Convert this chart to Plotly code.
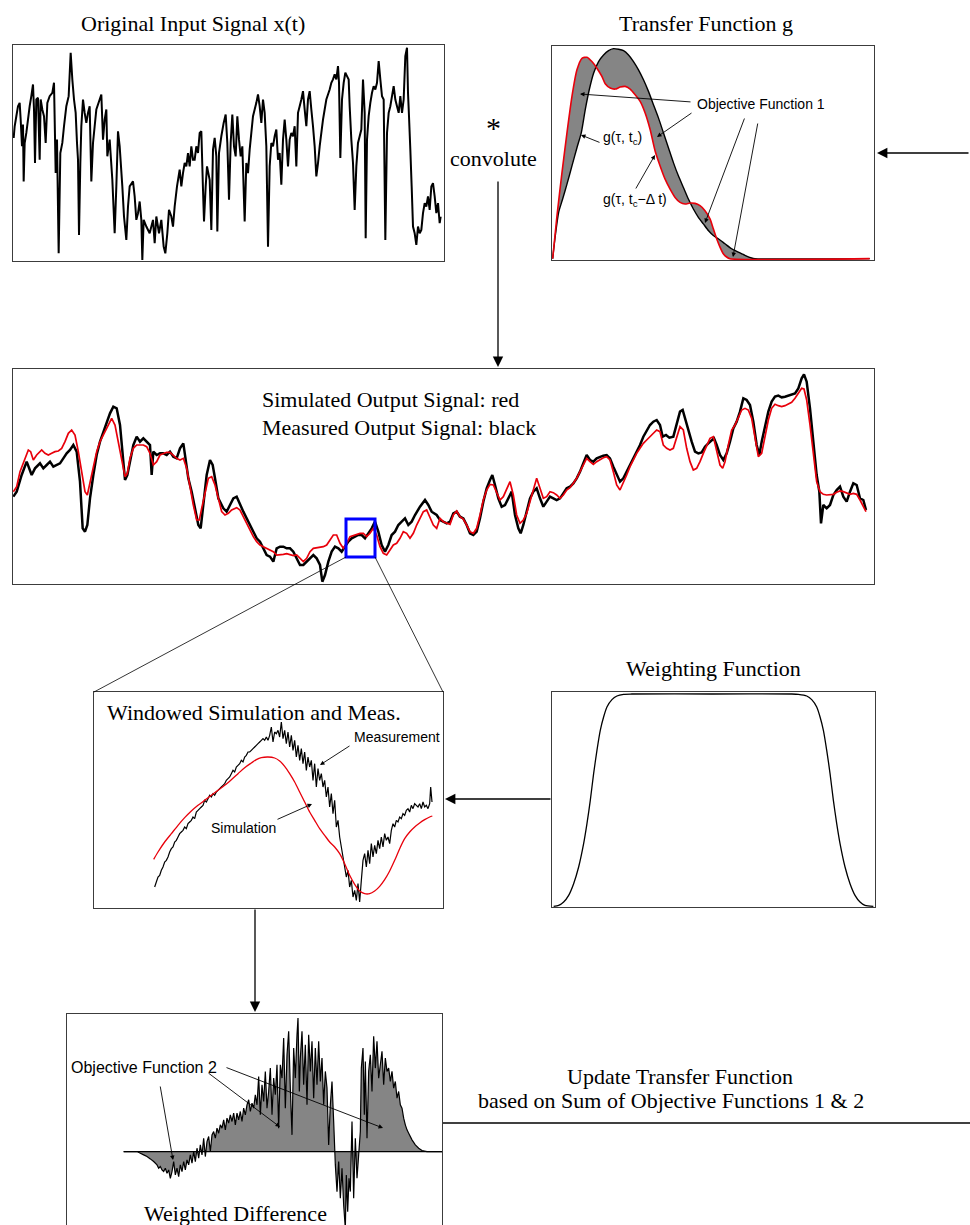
import plotly.graph_objects as go

# ---------------------------------------------------------------------------
# Canvas
# ---------------------------------------------------------------------------
W, H = 970, 1225


def px(x):
    return x / W


def py(y):
    return 1 - y / H


SERIF = "Liberation Serif, Times New Roman, serif"
SANS = "Liberation Sans, Arial, Helvetica, sans-serif"
BOX = "#3c3c3c"
FILL = "#858585"

# ---------------------------------------------------------------------------
# Data  (sample index, amplitude in arbitrary units)
# ---------------------------------------------------------------------------
input_signal = [
    (42, 385), (45, 420), (50, 450), (55, 480), (60, 490), (63, 440), (67, 360), (70, 425), (72, 255),
    (75, 370), (80, 400), (85, 440), (90, 480), (95, 510), (100, 545), (103, 470), (106, 310), (110, 500),
    (115, 505), (120, 320), (123, 500), (128, 470), (133, 450), (138, 370), (143, 490), (150, 510),
    (158, 520), (163, 550), (168, 280), (172, 380), (177, 40), (182, 340), (188, 370), (193, 420),
    (200, 480), (207, 510), (213, 640), (218, 560), (223, 500), (228, 460), (232, 370), (235, 320),
    (238, 95), (242, 310), (245, 420), (250, 500), (255, 460), (260, 430), (265, 460), (270, 480),
    (275, 255), (280, 370), (285, 420), (290, 470), (300, 500), (305, 515), (310, 380), (315, 440),
    (320, 470), (323, 330), (330, 380), (338, 260), (345, 100), (350, 240), (355, 405), (360, 360),
    (368, 240), (373, 150), (380, 80), (385, 180), (390, 240), (400, 255), (405, 210), (410, 140),
    (415, 160), (420, 195), (425, 140), (428, 20), (432, 140), (440, 120), (450, 100), (460, 140),
    (465, 70), (470, 150), (478, 100), (485, 140), (492, 60), (497, 40), (503, 100), (508, 170),
    (515, 150), (520, 120), (525, 180), (532, 240), (540, 290), (545, 240), (550, 280), (555, 310),
    (560, 300), (565, 340), (570, 300), (575, 360), (580, 320), (585, 320), (590, 360), (595, 340),
    (600, 400), (605, 405), (610, 230), (613, 135), (618, 240), (622, 300), (630, 260), (635, 110),
    (640, 350), (645, 385), (650, 330), (653, 105), (658, 340), (665, 390), (672, 430), (678, 455),
    (683, 370), (688, 200), (693, 370), (698, 455), (703, 360), (708, 330), (713, 450), (718, 380),
    (723, 330), (728, 360), (735, 135), (740, 310), (745, 280), (750, 350), (755, 400), (760, 450),
    (765, 470), (770, 490), (775, 515), (780, 480), (785, 430), (790, 500), (795, 460), (800, 360),
    (805, 60), (810, 300), (815, 370), (820, 360), (825, 390), (830, 410), (835, 320), (840, 340),
    (845, 245), (850, 380), (855, 440), (860, 380), (865, 300), (870, 380), (875, 400), (880, 390),
    (885, 420), (890, 300), (895, 460), (900, 480), (905, 500), (910, 525), (915, 470), (920, 420),
    (925, 500), (930, 525), (935, 470), (940, 420), (945, 360), (950, 270), (955, 310), (960, 360),
    (965, 400), (970, 440), (975, 470), (980, 500), (985, 515), (990, 530), (995, 550), (1000, 560),
    (1005, 575), (1010, 560), (1015, 600), (1018, 550), (1022, 325), (1027, 500), (1032, 550),
    (1037, 580), (1042, 570), (1047, 560), (1050, 480), (1055, 380), (1060, 310), (1065, 170),
    (1070, 300), (1075, 370), (1080, 390), (1085, 410), (1090, 560), (1095, 460), (1098, 85),
    (1102, 380), (1107, 450), (1112, 490), (1117, 520), (1122, 540), (1127, 530), (1132, 550),
    (1137, 615), (1142, 560), (1147, 510), (1152, 500), (1157, 80), (1162, 400), (1167, 460),
    (1172, 480), (1177, 510), (1182, 540), (1187, 500), (1192, 480), (1197, 460), (1202, 510),
    (1207, 460), (1212, 500), (1217, 630), (1222, 655), (1225, 520), (1228, 450), (1232, 350),
    (1236, 240), (1240, 120), (1245, 100), (1250, 65), (1255, 120), (1260, 100), (1265, 110),
    (1270, 160), (1275, 190), (1280, 180), (1285, 210), (1290, 170), (1295, 240), (1300, 250),
    (1305, 210), (1310, 160), (1315, 190), (1320, 130), (1323, 150),
]

# transfer function g(tau, t_c) and the previous estimate g(tau, t_c - dt)
g_current = [
    (22, 20), (30, 90), (40, 160), (52, 200), (65, 245), (80, 300), (95, 355), (108, 400), (120, 470),
    (132, 530), (145, 580), (160, 615), (175, 635), (190, 648), (205, 654), (220, 652), (235, 648),
    (250, 635), (265, 615), (280, 590), (295, 560), (310, 525), (325, 485), (340, 445), (355, 400),
    (370, 355), (385, 310), (400, 270), (415, 235), (430, 200), (445, 170), (460, 145), (475, 125),
    (490, 105), (505, 90), (520, 80), (540, 65), (560, 50), (580, 40), (600, 30), (620, 22), (630, 20),
    (975, 20),
]
g_previous = [
    (22, 20), (35, 150), (50, 280), (65, 400), (80, 510), (95, 590), (110, 625), (125, 628), (140, 615),
    (155, 595), (170, 570), (180, 548), (195, 535), (210, 532), (225, 538), (240, 540), (255, 532),
    (270, 515), (285, 495), (300, 460), (315, 410), (330, 345), (345, 300), (360, 260), (375, 230),
    (390, 205), (405, 190), (420, 185), (435, 188), (450, 187), (465, 180), (480, 165), (495, 140),
    (505, 110), (515, 80), (525, 55), (535, 35), (545, 25), (555, 20), (975, 20),
]

measured_out = [
    (10, 305), (20, 320), (35, 370), (50, 410), (65, 370), (75, 390), (90, 405), (100, 390), (110, 400),
    (120, 410), (130, 395), (140, 400), (150, 405), (160, 420), (170, 435), (180, 445), (190, 460),
    (200, 440), (210, 350), (218, 210), (225, 200), (232, 220), (240, 300), (250, 370), (260, 430),
    (270, 470), (280, 500), (290, 530), (300, 555), (310, 575), (320, 570), (330, 520), (338, 440),
    (345, 355), (352, 370), (360, 410), (370, 460), (380, 485), (390, 470), (400, 480), (410, 470),
    (420, 460), (425, 370), (430, 440), (440, 430), (450, 435), (460, 435), (470, 430), (480, 440),
    (490, 425), (500, 420), (510, 450), (520, 465), (528, 400), (535, 360), (545, 320), (555, 270),
    (565, 220), (572, 210), (580, 280), (590, 370), (600, 415), (608, 400), (615, 360), (625, 300),
    (640, 270), (650, 260), (660, 280), (670, 300), (680, 305), (690, 280), (700, 260), (710, 240),
    (720, 220), (730, 200), (740, 180), (750, 170), (760, 150), (770, 130), (780, 125), (790, 110),
    (795, 130), (800, 150), (810, 155), (820, 155), (830, 150), (840, 150), (850, 140), (860, 120),
    (870, 100), (880, 100), (890, 110), (900, 120), (910, 130), (920, 120), (930, 100), (937, 50),
    (945, 70), (955, 110), (965, 140), (975, 155), (985, 150), (995, 140), (1005, 155), (1015, 170),
    (1025, 180), (1035, 185), (1045, 190), (1055, 190), (1065, 180), (1075, 195), (1085, 210),
    (1095, 230), (1105, 200), (1115, 160), (1125, 140), (1135, 160), (1145, 190), (1155, 200),
    (1165, 220), (1175, 230), (1185, 240), (1195, 220), (1205, 230), (1215, 250), (1230, 275),
    (1245, 295), (1255, 280), (1265, 260), (1280, 250), (1290, 235), (1300, 230), (1310, 225),
    (1320, 230), (1330, 255), (1340, 260), (1350, 245), (1360, 240), (1370, 220), (1380, 195),
    (1390, 190), (1400, 200), (1410, 240), (1420, 290), (1430, 330), (1440, 355), (1447, 370),
    (1455, 340), (1465, 300), (1475, 275), (1485, 280), (1495, 300), (1505, 320), (1515, 250),
    (1525, 210), (1532, 195), (1540, 220), (1550, 260), (1560, 300), (1570, 320), (1580, 330),
    (1590, 300), (1600, 275), (1610, 290), (1620, 305), (1630, 300), (1640, 295), (1650, 300),
    (1660, 315), (1670, 330), (1680, 335), (1690, 345), (1700, 360), (1710, 380), (1720, 405),
    (1730, 430), (1740, 415), (1750, 410), (1760, 420), (1770, 425), (1780, 428), (1790, 430),
    (1800, 420), (1810, 395), (1820, 370), (1830, 350), (1840, 360), (1850, 380), (1860, 400),
    (1870, 420), (1880, 440), (1890, 460), (1900, 485), (1910, 505), (1920, 520), (1930, 530),
    (1940, 535), (1950, 520), (1958, 485), (1968, 490), (1978, 482), (1990, 485), (2000, 525),
    (2010, 560), (2018, 565), (2025, 540), (2035, 500), (2045, 470), (2055, 440), (2065, 435),
    (2075, 438), (2085, 455), (2095, 465), (2105, 475), (2112, 480), (2120, 460), (2130, 430),
    (2140, 415), (2150, 435), (2160, 470), (2170, 510), (2180, 530), (2190, 560), (2200, 600),
    (2210, 595), (2220, 580), (2230, 530), (2240, 460), (2248, 430), (2255, 470), (2265, 520),
    (2275, 560), (2285, 590), (2295, 605), (2305, 608), (2315, 603), (2325, 605), (2335, 608),
    (2345, 610), (2355, 615), (2365, 630), (2375, 660), (2382, 672), (2390, 650), (2400, 570),
    (2410, 460), (2420, 370), (2428, 320), (2433, 225), (2440, 280), (2450, 270), (2460, 280),
    (2470, 310), (2480, 325), (2490, 335), (2500, 305), (2510, 290), (2520, 320), (2530, 345),
    (2540, 340), (2550, 300), (2560, 295), (2568, 265),
]

simulated_out = [
    (10, 320), (20, 335), (30, 380), (45, 420), (55, 445), (62, 440), (70, 415), (80, 430), (90, 440),
    (95, 445), (105, 435), (115, 430), (125, 435), (135, 440), (145, 442), (155, 450), (165, 470),
    (175, 495), (185, 505), (195, 490), (205, 440), (215, 380), (225, 320), (232, 310), (240, 350),
    (250, 400), (260, 440), (270, 470), (280, 490), (290, 510), (300, 535), (305, 540), (315, 520),
    (325, 470), (335, 410), (345, 365), (352, 375), (360, 420), (370, 450), (380, 460), (390, 460),
    (400, 460), (410, 455), (420, 435), (430, 400), (440, 410), (450, 430), (460, 435), (470, 438),
    (480, 438), (490, 430), (500, 420), (510, 415), (520, 420), (530, 390), (540, 330), (550, 280),
    (560, 235), (568, 235), (575, 270), (585, 320), (595, 360), (605, 365), (615, 340), (625, 300),
    (635, 260), (645, 250), (655, 255), (665, 265), (680, 272), (690, 265), (700, 245), (710, 220),
    (720, 200), (730, 185), (740, 170), (750, 160), (760, 155), (770, 150), (780, 145), (790, 140),
    (800, 130), (810, 130), (820, 132), (830, 134), (840, 132), (850, 128), (860, 130), (870, 120),
    (880, 110), (890, 120), (900, 140), (910, 150), (920, 152), (930, 152), (940, 155), (950, 160),
    (960, 175), (970, 190), (980, 190), (990, 165), (1000, 150), (1010, 165), (1020, 185),
    (1030, 188), (1040, 190), (1050, 195), (1060, 195), (1070, 185), (1080, 195), (1090, 210),
    (1100, 190), (1110, 155), (1120, 135), (1130, 130), (1140, 145), (1150, 160), (1160, 165),
    (1170, 180), (1180, 200), (1190, 195), (1200, 180), (1210, 195), (1220, 220), (1230, 240),
    (1240, 260), (1250, 265), (1260, 245), (1270, 220), (1280, 210), (1290, 240), (1300, 230),
    (1310, 225), (1320, 222), (1330, 250), (1340, 262), (1350, 245), (1360, 238), (1370, 220),
    (1380, 200), (1390, 195), (1400, 210), (1410, 250), (1420, 295), (1430, 325), (1440, 342),
    (1450, 340), (1460, 315), (1470, 295), (1480, 305), (1490, 330), (1500, 350), (1510, 310),
    (1520, 250), (1530, 225), (1540, 235), (1550, 255), (1560, 290), (1570, 330), (1580, 360),
    (1590, 330), (1600, 300), (1610, 305), (1620, 320), (1630, 317), (1640, 310), (1650, 300),
    (1660, 310), (1670, 325), (1680, 332), (1690, 345), (1700, 360), (1710, 380), (1720, 400),
    (1730, 420), (1740, 410), (1750, 402), (1760, 410), (1770, 417), (1780, 422), (1790, 425),
    (1800, 415), (1810, 380), (1820, 340), (1830, 325), (1840, 345), (1850, 370), (1860, 395),
    (1870, 415), (1880, 435), (1890, 450), (1900, 465), (1910, 475), (1920, 485), (1930, 495),
    (1940, 505), (1950, 500), (1960, 460), (1970, 450), (1980, 445), (1990, 450), (2000, 485),
    (2010, 515), (2020, 505), (2030, 450), (2040, 410), (2050, 385), (2060, 390), (2070, 410),
    (2080, 435), (2090, 460), (2100, 480), (2110, 485), (2120, 445), (2130, 400), (2138, 390),
    (2145, 410), (2155, 460), (2165, 505), (2175, 520), (2185, 540), (2195, 565), (2205, 570),
    (2215, 565), (2225, 540), (2235, 480), (2245, 425), (2255, 435), (2265, 485), (2275, 535),
    (2285, 570), (2295, 582), (2305, 578), (2315, 575), (2325, 578), (2335, 582), (2345, 588),
    (2355, 600), (2365, 615), (2375, 630), (2382, 628), (2390, 595), (2400, 520), (2410, 430),
    (2420, 350), (2430, 320), (2440, 312), (2450, 310), (2460, 310), (2470, 312), (2480, 318),
    (2490, 322), (2500, 320), (2510, 315), (2520, 312), (2530, 315), (2540, 312), (2550, 295),
    (2560, 278), (2568, 260),
]

# time window that is enlarged in the panel below
window_t = (1008, 1095)
window_a = (124, 238)

window_meas = [
    (200, 80), (205, 95), (210, 110), (215, 115), (220, 130), (225, 140), (230, 155), (235, 160),
    (240, 170), (245, 185), (250, 195), (255, 200), (260, 215), (265, 220), (270, 230), (275, 240),
    (280, 245), (285, 250), (290, 260), (295, 255), (300, 270), (305, 275), (310, 280), (315, 290),
    (320, 285), (325, 305), (330, 310), (335, 315), (340, 320), (345, 325), (350, 340), (355, 335),
    (360, 345), (365, 355), (370, 350), (375, 360), (380, 355), (385, 365), (390, 370), (395, 375),
    (400, 380), (405, 385), (410, 390), (415, 400), (420, 405), (425, 410), (430, 420), (435, 430),
    (440, 425), (445, 440), (450, 445), (455, 450), (460, 460), (465, 455), (470, 470), (475, 475),
    (480, 485), (485, 485), (490, 490), (495, 495), (500, 500), (505, 505), (510, 510), (515, 515),
    (520, 520), (525, 525), (530, 520), (535, 530), (540, 520), (545, 535), (550, 560), (555, 515),
    (560, 545), (565, 540), (570, 550), (575, 530), (580, 575), (585, 525), (590, 550), (595, 510),
    (600, 545), (605, 500), (610, 535), (615, 490), (620, 520), (625, 470), (630, 505), (635, 460),
    (640, 495), (645, 450), (650, 485), (655, 430), (660, 470), (665, 440), (670, 460), (675, 400),
    (680, 450), (685, 380), (690, 435), (695, 400), (700, 420), (705, 380), (710, 400), (715, 350),
    (720, 380), (725, 320), (730, 360), (735, 300), (740, 340), (745, 260), (750, 280), (755, 230),
    (760, 200), (765, 170), (770, 140), (775, 110), (780, 130), (785, 80), (790, 100), (795, 50),
    (800, 70), (805, 40), (810, 90), (815, 35), (820, 100), (825, 160), (830, 180), (835, 140),
    (840, 190), (845, 150), (850, 210), (855, 170), (860, 205), (865, 180), (870, 220), (875, 195),
    (880, 230), (885, 200), (890, 240), (895, 220), (900, 230), (905, 210), (910, 250), (915, 270),
    (920, 260), (925, 280), (930, 275), (935, 290), (940, 285), (945, 300), (950, 295), (955, 310),
    (960, 315), (965, 305), (970, 325), (975, 315), (980, 330), (985, 325), (990, 320), (995, 330),
    (1000, 315), (1005, 335), (1010, 320), (1015, 325), (1020, 315), (1025, 330), (1028, 380),
    (1032, 335),
]
window_sim = [
    (197, 163), (210, 185), (230, 215), (250, 240), (270, 265), (290, 288), (310, 308), (330, 325),
    (350, 340), (370, 355), (390, 370), (410, 385), (430, 402), (450, 420), (470, 438), (490, 452),
    (505, 462), (520, 468), (540, 470), (560, 467), (575, 458), (590, 442), (605, 420), (620, 395),
    (635, 365), (650, 335), (665, 305), (680, 280), (695, 255), (710, 235), (725, 215), (740, 200),
    (755, 180), (770, 150), (785, 115), (800, 88), (815, 68), (830, 60), (845, 60), (860, 68),
    (875, 82), (890, 102), (905, 128), (920, 160), (935, 195), (950, 225), (965, 245), (980, 260),
    (995, 272), (1010, 282), (1025, 290), (1033, 293),
]

weighting = [
    (25, 32), (40, 35), (55, 45), (70, 65), (85, 100), (100, 150), (115, 220), (125, 280), (135, 350),
    (145, 430), (155, 500), (165, 560), (175, 600), (185, 630), (200, 652), (215, 663), (235, 668),
    (260, 669), (500, 669), (740, 669), (760, 668), (785, 663), (800, 652), (815, 630), (825, 600),
    (835, 560), (845, 500), (855, 430), (865, 350), (875, 280), (885, 220), (900, 150), (915, 100),
    (930, 65), (945, 45), (960, 35), (985, 32),
]

weighted_diff = [
    (190, 0), (230, 0), (240, -5), (250, -10), (260, -15), (270, -22), (280, -30), (290, -40),
    (295, -50), (300, -45), (305, -55), (310, -60), (315, -50), (320, -65), (325, -55), (330, -80),
    (335, -60), (340, -30), (345, -70), (350, -50), (355, -75), (360, -40), (365, -60), (370, -30),
    (375, -55), (380, -25), (385, -40), (390, -10), (395, -35), (400, 0), (405, -30), (410, 10),
    (415, -20), (420, 20), (425, -10), (430, 40), (435, -15), (440, 30), (445, 45), (450, 0),
    (455, 50), (460, 60), (465, 40), (470, 70), (475, 55), (480, 80), (485, 70), (490, 95), (495, 65),
    (500, 100), (505, 85), (510, 110), (515, 90), (520, 115), (525, 80), (530, 115), (535, 95),
    (540, 120), (545, 90), (550, 130), (555, 110), (560, 140), (565, 155), (570, 120), (575, 145),
    (580, 130), (585, 170), (590, 140), (595, 225), (600, 110), (605, 200), (610, 150), (615, 240),
    (620, 130), (625, 180), (630, 250), (635, 110), (640, 220), (645, 170), (650, 260), (655, 70),
    (660, 260), (665, 220), (670, 340), (675, 130), (680, 290), (685, 360), (690, 190), (695, 50),
    (700, 310), (705, 220), (710, 350), (713, 400), (717, 180), (720, 280), (725, 360), (730, 200),
    (735, 320), (740, 140), (745, 350), (750, 240), (755, 330), (760, 160), (765, 310), (770, 200),
    (775, 330), (780, 210), (785, 280), (790, 140), (795, 240), (800, 190), (805, 20), (810, 140),
    (815, 210), (820, 90), (825, -40), (830, -120), (835, -30), (840, -140), (845, -50), (850, -160),
    (855, -230), (858, -70), (862, -180), (866, -80), (870, -120), (875, 90), (880, -140), (885, 40),
    (890, -80), (895, -10), (900, 60), (903, 250), (908, 310), (912, 110), (915, 270), (920, 40),
    (925, 240), (930, 290), (935, 180), (940, 345), (945, 250), (950, 330), (955, 220), (960, 260),
    (965, 300), (970, 200), (975, 280), (980, 240), (985, 250), (990, 210), (995, 240), (1000, 190),
    (1005, 210), (1010, 160), (1015, 180), (1020, 140), (1025, 130), (1030, 100), (1035, 80),
    (1040, 65), (1045, 55), (1055, 35), (1065, 20), (1075, 10), (1085, 3), (1100, 0), (1145, 0),
]
diff_baseline = [(190, 0), (1145, 0)]

# ---------------------------------------------------------------------------
# Figure
# ---------------------------------------------------------------------------
fig = go.Figure()


def add_line(pairs, n, color="black", width=1.2, **kw):
    xs, ys = zip(*pairs)
    suffix = "" if n == 1 else str(n)
    fig.add_trace(go.Scatter(
        x=list(xs), y=list(ys), mode="lines",
        xaxis="x" + suffix, yaxis="y" + suffix,
        line=dict(color=color, width=width, **kw.pop("line_extra", {})),
        hoverinfo="skip", **kw))


# panel 1: input signal
add_line(input_signal, 1, width=2.0, line_extra=dict(simplify=False))
# panel 2: transfer functions with shaded difference
add_line(g_current, 2, width=1.4, line_extra=dict(shape="spline", smoothing=0.6))
add_line(g_previous, 2, color="#e8000b", width=1.6, fill="tonexty", fillcolor=FILL,
         line_extra=dict(shape="spline", smoothing=0.6))
# panel 3: measured (black) and simulated (red) output
add_line(measured_out, 3, width=2.5)
add_line(simulated_out, 3, color="#e8000b", width=1.7)
# panel 4: windowed measurement and simulation
add_line(window_meas, 4, width=1.2, line_extra=dict(simplify=False))
add_line(window_sim, 4, color="#e8000b", width=1.3, line_extra=dict(shape="spline", smoothing=0.8))
# panel 5: weighting function
add_line(weighting, 5, width=1.3, line_extra=dict(shape="spline", smoothing=0.7))
# panel 6: weighted difference
add_line(weighted_diff, 6, width=1.2, fill="tozeroy", fillcolor=FILL,
         line_extra=dict(simplify=False))
add_line(diff_baseline, 6, width=1.3)


def axis(domain, rng, **kw):
    d = dict(domain=domain, range=rng, showline=True, mirror=True, linecolor=BOX,
             linewidth=1.2, showgrid=False, zeroline=False, showticklabels=False,
             ticks="", fixedrange=True)
    d.update(kw)
    return d


layout_axes = dict(
    xaxis=axis([px(13), px(444)], [40, 1333], anchor="y"),
    yaxis=axis([py(261), py(45)], [17, 663], anchor="x"),
    xaxis2=axis([px(552), px(874)], [20, 988], anchor="y2"),
    yaxis2=axis([py(260), py(46)], [16, 662], anchor="x2"),
    xaxis3=axis([px(13), px(874)], [9, 2592], anchor="y3"),
    yaxis3=axis([py(584), py(369)], [43, 688], anchor="x3"),
    xaxis4=axis([px(94), px(443)], [18, 1065], anchor="y4"),
    yaxis4=axis([py(908), py(692)], [17, 665], anchor="x4"),
    xaxis5=axis([px(552), px(875)], [20, 990], anchor="y5"),
    yaxis5=axis([py(907), py(692)], [30, 675], anchor="x5"),
    xaxis6=axis([px(67), px(442)], [20, 1145], anchor="y6", side="top", mirror=False),
    yaxis6=axis([0, py(1014)], [-220, 412], anchor="x6"),
)

fig.update_layout(
    width=W, height=H, margin=dict(l=0, r=0, t=0, b=0),
    paper_bgcolor="white", plot_bgcolor="white", showlegend=False,
    **layout_axes,
)

# enlarged time window marker
fig.add_shape(type="rect", xref="x3", yref="y3",
              x0=window_t[0], x1=window_t[1], y0=window_a[0], y1=window_a[1],
              line=dict(color="#0000ff", width=3))

# zoom connector lines
for (x0, y0, x1, y1) in [(346, 557, 94, 692), (375, 557, 443, 692)]:
    fig.add_shape(type="line", xref="paper", yref="paper",
                  x0=px(x0), y0=py(y0), x1=px(x1), y1=py(y1),
                  line=dict(color="black", width=0.8))

# feedback line
fig.add_shape(type="line", xref="paper", yref="paper",
              x0=px(443), y0=py(1123), x1=px(970), y1=py(1123),
              line=dict(color="black", width=1.6))


def arrow(head, tail, width=1.3, size=1.6, style=2):
    fig.add_annotation(x=px(head[0]), y=py(head[1]), xref="paper", yref="paper",
                       ax=tail[0] - head[0], ay=tail[1] - head[1],
                       text="", showarrow=True, arrowhead=style, arrowsize=size,
                       arrowwidth=width, arrowcolor="black", standoff=0)


def label(x, y, s, size=22, family=SERIF, xanchor="center", yanchor="middle"):
    fig.add_annotation(x=px(x), y=py(y), xref="paper", yref="paper", text=s,
                       showarrow=False, xanchor=xanchor, yanchor=yanchor, borderpad=0,
                       font=dict(family=family, size=size, color="black"))


# flow arrows
arrow((877, 153), (970, 153))
arrow((498, 367), (498, 180))
arrow((445, 799), (552, 799))
arrow((255, 1012), (255, 908))

# pointer arrows inside the panels
small = dict(width=0.9, size=1.0, style=2)
arrow((580, 94), (692, 102), **small)
arrow((657, 137), (693, 112), **small)
arrow((705, 223), (745, 117), **small)
arrow((733, 257), (758, 122), **small)
arrow((581, 135), (601, 143), **small)
arrow((655, 155), (635, 190), **small)
arrow((320, 765), (351, 745), **small)
arrow((312, 804), (276, 820), **small)
arrow((173, 1160), (160, 1085), **small)
arrow((280, 1127), (207, 1072), **small)
arrow((383, 1128), (225, 1067), **small)

# titles and captions
label(193, 23, "Original Input Signal x(t)")
label(706, 23, "Transfer Function g")
label(493, 145, "*", size=30, yanchor="bottom")
label(494, 158, "convolute")
label(261, 400, "Simulated Output Signal: red", xanchor="left")
label(261, 428, "Measured Output Signal: black", xanchor="left")
label(106, 712, "Windowed Simulation and Meas.", xanchor="left")
label(713, 668, "Weighting Function")
label(680, 1076, "Update Transfer Function")
label(671, 1100, "based on Sum of Objective Functions 1 &amp; 2")
label(235, 1213, "Weighted Difference")

# pointer labels
label(761, 104, "Objective Function 1", size=14, family=SANS)
label(602, 138, "g(\u03c4, t<sub>c</sub>)", size=14, family=SANS, xanchor="left")
label(602, 200, "g(\u03c4, t<sub>c</sub>\u2212\u0394 t)", size=14, family=SANS, xanchor="left")
label(353, 737, "Measurement", size=14, family=SANS, xanchor="left")
label(210, 828, "Simulation", size=14, family=SANS, xanchor="left")
label(70, 1067, "Objective Function 2", size=16, family=SANS, xanchor="left")

fig.write_html("out.html", config={"displayModeBar": False})
